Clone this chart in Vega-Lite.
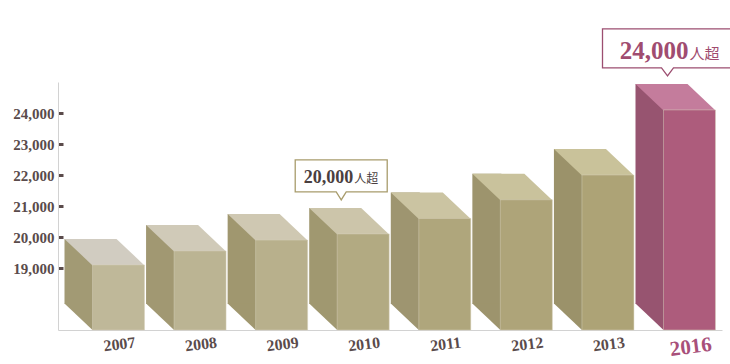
{
  "$schema": "https://vega.github.io/schema/vega-lite/v6.json",
  "width": 664,
  "height": 248,
  "autosize": {"type": "none"},
  "padding": {"left": 58, "right": 8, "top": 82, "bottom": 34},
  "background": "white",
  "config": {"view": {"stroke": null}},
  "data": {
    "values": [
      {"year": "2007", "value": 19100, "note": null, "unit": null},
      {"year": "2008", "value": 19550, "note": null, "unit": null},
      {"year": "2009", "value": 19900, "note": null, "unit": null},
      {"year": "2010", "value": 20100, "note": "20,000", "unit": "人超"},
      {"year": "2011", "value": 20600, "note": null, "unit": null},
      {"year": "2012", "value": 21200, "note": null, "unit": null},
      {"year": "2013", "value": 22000, "note": null, "unit": null},
      {"year": "2016", "value": 24100, "note": "24,000", "unit": "人超"}
    ]
  },
  "encoding": {
    "x": {
      "field": "year",
      "type": "ordinal",
      "scale": {"type": "band", "paddingInner": 0, "paddingOuter": 0.07},
      "axis": {
        "title": null,
        "ticks": false,
        "domain": true,
        "domainColor": "#d2d2d2",
        "domainWidth": 1,
        "labelAngle": -7,
        "labelAlign": "center",
        "labelBaseline": "top",
        "labelPadding": 6,
        "labelOffset": 14,
        "labelFont": "Liberation Serif",
        "labelFontWeight": "bold",
        "labelFontSize": {"condition": {"test": "datum.value === '2016'", "value": 21}, "value": 16},
        "labelColor": {"condition": {"test": "datum.value === '2016'", "value": "#a8507a"}, "value": "#5a4b4b"}
      }
    },
    "y": {
      "field": "value",
      "type": "quantitative",
      "scale": {"domain": [17000, 25000], "nice": false, "zero": false},
      "axis": {
        "title": null,
        "values": [19000, 20000, 21000, 22000, 23000, 24000],
        "labelExpr": "format(datum.value, ',')",
        "grid": false,
        "domain": true,
        "domainColor": "#d2d2d2",
        "domainWidth": 1,
        "ticks": true,
        "tickSize": -5,
        "tickWidth": 3,
        "tickColor": "#5a4b4b",
        "labelPadding": 9,
        "labelFont": "Liberation Serif",
        "labelFontWeight": "bold",
        "labelFontSize": 15,
        "labelColor": "#5a4b4b"
      }
    }
  },
  "layer": [
    {
      "mark": {"type": "bar", "width": 29, "xOffset": -25.5, "yOffset": -26, "y2Offset": -26},
      "encoding": {
        "y2": {"datum": 17000},
        "color": {
          "field": "year", "type": "ordinal", "legend": null,
          "scale": {"domain": ["2007","2008","2009","2010","2011","2012","2013","2016"],
                    "range": ["#a29a74","#a19872","#a0976f","#a09870","#9e9570","#9d946d","#9b926a","#975470"]}
        }
      }
    },
    {
      "mark": {"type": "point", "shape": "M-40,-26.5L-11,-26.5L-11,0L-12,0Z", "size": 4, "filled": true, "opacity": 1, "strokeWidth": 0},
      "encoding": {
        "y": {
          "datum": 17000,
          "axis": {
            "title": null,
            "values": [19000, 20000, 21000, 22000, 23000, 24000],
            "labelExpr": "format(datum.value, ',')",
            "grid": false,
            "domain": true,
            "domainColor": "#d2d2d2",
            "domainWidth": 1,
            "ticks": true,
            "tickSize": -5,
            "tickWidth": 3,
            "tickColor": "#5a4b4b",
            "labelPadding": 9,
            "labelFont": "Liberation Serif",
            "labelFontWeight": "bold",
            "labelFontSize": 15,
            "labelColor": "#5a4b4b"
          }
        },
        "color": {
          "field": "year", "type": "ordinal", "legend": null,
          "scale": {"domain": ["2007","2008","2009","2010","2011","2012","2013","2016"],
                    "range": ["#a29a74","#a19872","#a0976f","#a09870","#9e9570","#9d946d","#9b926a","#975470"]}
        }
      }
    },
    {
      "mark": {"type": "point", "shape": "M-12,0.5L40,0.5L12,-26L-40,-26Z", "size": 4, "filled": true, "opacity": 1, "strokeWidth": 0},
      "encoding": {
        "color": {
          "field": "year", "type": "ordinal", "legend": null,
          "scale": {"domain": ["2007","2008","2009","2010","2011","2012","2013","2016"],
                    "range": ["#d1ccc1","#d0cab8","#cfc8b2","#ccc5aa","#cbc4a2","#c9c29c","#c9c29a","#c47c9c"]}
        }
      }
    },
    {
      "mark": {"type": "bar", "width": 52, "xOffset": 14, "stroke": "#d6d0bc", "strokeWidth": 0.6, "strokeOpacity": 0.8},
      "encoding": {
        "y2": {"datum": 17000},
        "color": {
          "field": "year", "type": "ordinal", "legend": null,
          "scale": {"domain": ["2007","2008","2009","2010","2011","2012","2013","2016"],
                    "range": ["#bfb899","#bbb493","#b8b08c","#b2aa82","#afa67c","#aea479","#ada376","#ad5c7c"]}
        }
      }
    },
    {
      "transform": [{"filter": "datum.year === '2010'"}],
      "mark": {"type": "point", "shape": "M-8,-34L-13,-42L-54,-42L-54,-74L38,-74L38,-42L-3,-42Z", "size": 4, "filled": true, "fill": "white", "opacity": 1, "stroke": "#a89c6c", "strokeWidth": 1.3}
    },
    {
      "transform": [{"filter": "datum.year === '2010'"}],
      "mark": {"type": "text", "align": "right", "baseline": "alphabetic", "dx": 4, "dy": -51, "font": "Liberation Serif", "fontWeight": "bold", "fontSize": 18, "color": "#4a3f3f"},
      "encoding": {"text": {"field": "note"}}
    },
    {
      "transform": [{"filter": "datum.year === '2010'"}],
      "mark": {"type": "text", "align": "left", "baseline": "alphabetic", "dx": 5, "dy": -51, "font": "Noto Sans CJK JP", "fontSize": 12, "color": "#4a3f3f"},
      "encoding": {"text": {"field": "unit"}}
    },
    {
      "transform": [{"filter": "datum.year === '2016'"}],
      "mark": {"type": "point", "shape": "M-8,-34L-14,-42L-73,-42L-73,-81L57,-81L57,-42L-2,-42Z", "size": 4, "filled": true, "fill": "white", "opacity": 1, "stroke": "#9c4e70", "strokeWidth": 1.3}
    },
    {
      "transform": [{"filter": "datum.year === '2016'"}],
      "mark": {"type": "text", "align": "right", "baseline": "alphabetic", "dx": 13, "dy": -51, "font": "Liberation Serif", "fontWeight": "bold", "fontSize": 25, "color": "#a04c70"},
      "encoding": {"text": {"field": "note"}}
    },
    {
      "transform": [{"filter": "datum.year === '2016'"}],
      "mark": {"type": "text", "align": "left", "baseline": "alphabetic", "dx": 14, "dy": -51, "font": "Noto Sans CJK JP", "fontSize": 15, "color": "#a04c70"},
      "encoding": {"text": {"field": "unit"}}
    }
  ],
  "resolve": {"scale": {"color": "independent"}}
}
